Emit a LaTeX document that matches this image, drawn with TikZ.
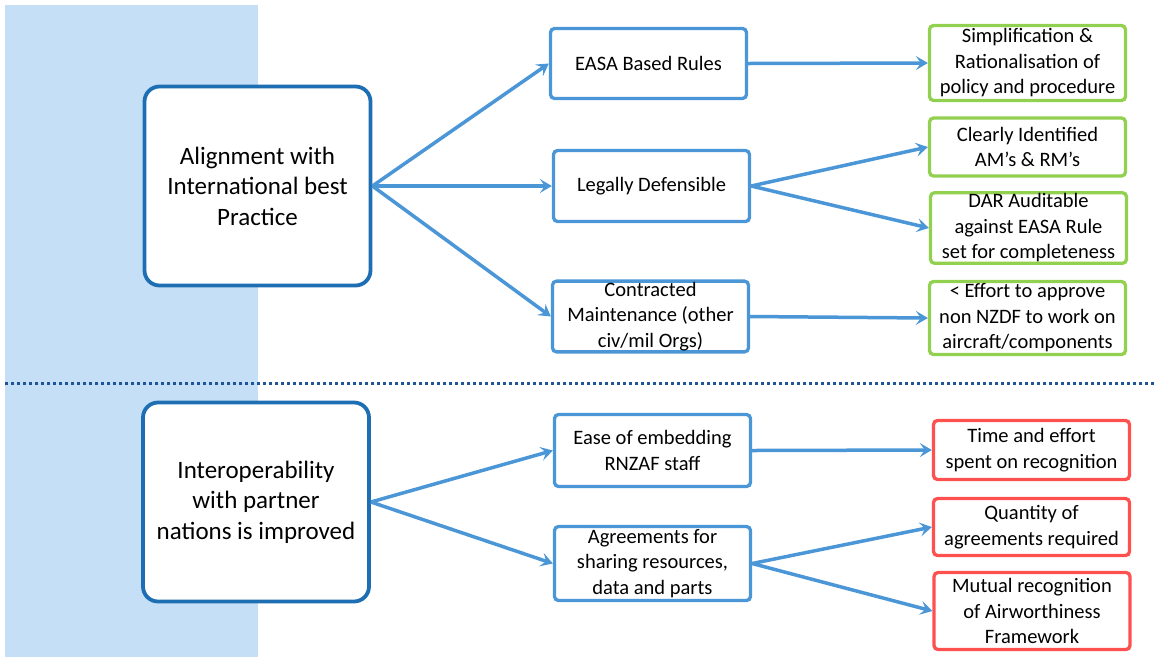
\documentclass[tikz,border=0pt]{standalone}
\usepackage{fontspec}
\setmainfont{Carlito}
\usetikzlibrary{arrows.meta}

\definecolor{bgblue}{RGB}{197,224,246}
\definecolor{mainblue}{RGB}{30,110,180}
\definecolor{boxblue}{RGB}{75,150,215}
\definecolor{boxgreen}{RGB}{146,208,80}
\definecolor{boxred}{RGB}{255,80,80}
\definecolor{dotblue}{RGB}{31,85,150}

\begin{document}
\begin{tikzpicture}[x=1pt, y=-1pt,
  goalbox/.style={draw=mainblue, line width=3.8pt, rounded corners=15pt, fill=white,
    minimum width=226pt, minimum height=199pt, align=center,
    font=\fontsize{25}{30.5}\selectfont},
  waybox/.style={draw=boxblue, line width=3.3pt, rounded corners=4pt, fill=white,
    minimum width=196pt, align=center, inner sep=1pt,
    font=\fontsize{20.5}{25.5}\selectfont},
  gainbox/.style={waybox, draw=boxgreen},
  costbox/.style={waybox, draw=boxred},
  link/.style={draw=boxblue, line width=3.5pt,
    -{Stealth[length=12pt, width=14pt, inset=5pt]}}]

  \useasboundingbox (0,0) rectangle (1155,657);

  % Shaded strip and separator
  \fill[bgblue] (5,5) rectangle (258,657);
  \draw[dotblue, line width=3pt, dash pattern=on 3pt off 3pt] (5,383) -- (1155,383);

  % Top half
  \node[goalbox] (align) at (257.5,186) {Alignment with\\International best\\Practice};

  \node[waybox, minimum height=70pt] (easa) at (648.5,63.5) {EASA Based Rules};
  \node[waybox, minimum height=71pt] (legal) at (651.5,186) {Legally Defensible};
  \node[waybox, minimum height=70pt] (contract) at (650.5,316.5) {Contracted\\Maintenance (other\\civ/mil Orgs)};

  \node[gainbox, minimum height=75pt] (simple) at (1027.5,63) {Simplification \&\\Rationalisation of\\policy and procedure};
  \node[gainbox, minimum height=58pt] (clear) at (1027.5,147) {Clearly Identified\\AM’s \& RM’s};
  \node[gainbox, minimum height=70pt] (audit) at (1028.5,228) {DAR Auditable\\against EASA Rule\\set for completeness};
  \node[gainbox, minimum height=73pt] (effort) at (1027.5,318) {< Effort to approve\\non NZDF to work on\\aircraft/components};

  \draw[link] (align.east) -- (easa.west);
  \draw[link] (align.east) -- (legal.west);
  \draw[link] (align.east) -- (contract.west);
  \draw[link] (easa.east) -- (simple.west);
  \draw[link] (legal.east) -- (clear.west);
  \draw[link] (legal.east) -- (audit.west);
  \draw[link] (contract.east) -- (effort.west);

  % Bottom half
  \node[goalbox] (interop) at (256,502) {Interoperability\\with partner\\nations is improved};

  \node[waybox, minimum height=72pt] (embed) at (652.5,450.5) {Ease of embedding\\RNZAF staff};
  \node[waybox, minimum height=74pt] (share) at (652.5,563.5) {Agreements for\\sharing resources,\\data and parts};

  \node[costbox, minimum height=59pt] (time) at (1031.5,450) {Time and effort\\spent on recognition};
  \node[costbox, minimum height=57pt] (qty) at (1031.5,527) {Quantity of\\agreements required};
  \node[costbox, minimum height=77pt] (mutual) at (1032,611) {Mutual recognition\\of Airworthiness\\Framework};

  \draw[link] (interop.east) -- (embed.west);
  \draw[link] (interop.east) -- (share.west);
  \draw[link] (embed.east) -- (time.west);
  \draw[link] (share.east) -- (qty.west);
  \draw[link] (share.east) -- (mutual.west);

\end{tikzpicture}
\end{document}
